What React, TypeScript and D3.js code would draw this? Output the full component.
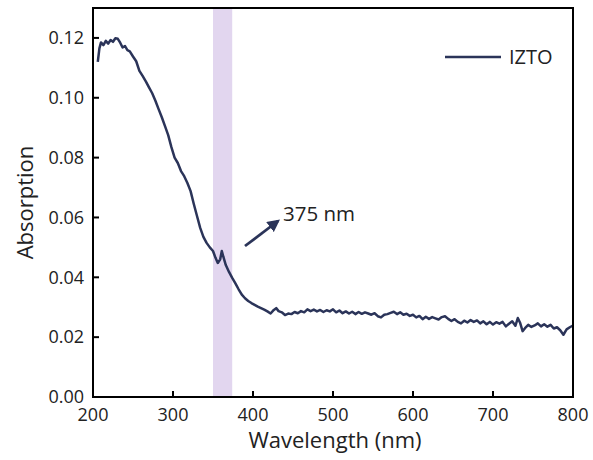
import React from "react";
import * as d3 from "d3";

const wavelengths: number[] = [
  206, 208, 210, 213, 216, 219, 222, 225, 228, 231, 234, 237, 240, 243, 246, 250, 254, 258, 262, 266,
  270, 274, 278, 282, 286, 290, 294, 298, 302, 306, 310, 314, 318, 322, 326, 330, 334, 338, 342, 346,
  350, 353, 356, 359, 361, 363, 366, 370, 374, 378, 382, 386, 390, 394, 398, 402, 406, 410, 414, 418,
  422, 426, 429, 432, 436, 440, 444, 448, 452, 456, 460, 464, 468, 472, 476, 480, 484, 488, 492, 496,
  500, 504, 508, 512, 516, 520, 524, 528, 532, 536, 540, 544, 548, 552, 556, 560, 564, 568, 572, 576,
  580, 584, 588, 592, 596, 600, 604, 608, 612, 616, 620, 624, 628, 632, 636, 640, 644, 648, 652, 656,
  660, 664, 668, 672, 676, 680, 684, 688, 692, 696, 700, 704, 708, 712, 716, 720, 724, 728, 731, 734,
  737, 740, 744, 748, 752, 756, 760, 764, 768, 772, 776, 780, 784, 788, 792, 796, 800,
];

const absorption: number[] = [
  0.112, 0.1165, 0.1185, 0.1176, 0.119, 0.1181, 0.1193, 0.1187, 0.1199, 0.1197, 0.1184, 0.1168, 0.1173, 0.1159, 0.1155, 0.1138, 0.1122, 0.109, 0.1073, 0.1055,
  0.1035, 0.1015, 0.099, 0.0962, 0.0935, 0.0905, 0.0875, 0.0835, 0.08, 0.0782, 0.0755, 0.0738, 0.0715, 0.0688, 0.0645, 0.0605, 0.0565, 0.0535, 0.0515, 0.05,
  0.0488, 0.0466, 0.0448, 0.046, 0.0488, 0.0468, 0.0441, 0.0418, 0.0398, 0.038, 0.036, 0.0342, 0.033, 0.0321, 0.0314, 0.0308, 0.0302, 0.0297, 0.0292, 0.0286,
  0.0279, 0.0291, 0.0297, 0.0287, 0.0283, 0.0274, 0.0279, 0.0277, 0.0284, 0.028, 0.0287, 0.0283, 0.0293, 0.0287, 0.0292, 0.0286, 0.0291, 0.0284, 0.029, 0.0286,
  0.0293, 0.0283, 0.0289, 0.028, 0.0286, 0.0279, 0.0285, 0.0277, 0.0284, 0.0278, 0.0283, 0.0279, 0.0275, 0.028, 0.027, 0.0266, 0.0275, 0.0277, 0.0281, 0.0285,
  0.0277, 0.0283, 0.0275, 0.0278, 0.0271, 0.0275, 0.0266, 0.0271, 0.026, 0.0268, 0.0261, 0.0267, 0.0263, 0.0259, 0.0267, 0.027, 0.0261, 0.0254, 0.026, 0.0251,
  0.0246, 0.0255, 0.0249, 0.0257, 0.0251, 0.0256, 0.0246, 0.0253, 0.0243, 0.0251, 0.0242, 0.025, 0.0245, 0.0251, 0.0236, 0.0245, 0.0253, 0.0238, 0.0264, 0.0247,
  0.022, 0.023, 0.0241, 0.0234, 0.0239, 0.0246, 0.0236, 0.0243, 0.0235, 0.0241, 0.0229, 0.0233, 0.0223, 0.0208, 0.0226, 0.0233, 0.0239,
];

const xTicks: number[] = [200, 300, 400, 500, 600, 700, 800];
const yTicks: number[] = [0, 0.02, 0.04, 0.06, 0.08, 0.1, 0.12];
const bandRange: number[] = [350, 374];
const seriesName = "IZTO";
const annotationText = "375 nm";

const W = 593;
const H = 460;
const M = { left: 93, right: 20, top: 8, bottom: 63 };
const FONT = "'Open Sans', 'Noto Sans', sans-serif";
const LINE_COLOR = "#2b3459";

export default function App() {
  const x = d3.scaleLinear().domain([200, 800]).range([M.left, W - M.right]);
  const y = d3.scaleLinear().domain([0, 0.13]).range([H - M.bottom, M.top]);
  const pts: [number, number][] = wavelengths.map((w, i) => [w, absorption[i]]);
  const line = d3
    .line<[number, number]>()
    .x((d) => x(d[0]))
    .y((d) => y(d[1]))
    .curve(d3.curveLinear);
  const x0 = M.left;
  const x1 = W - M.right;
  const y0 = H - M.bottom;
  const y1 = M.top;
  const tick = 6;

  return (
    <svg width={W} height={H} style={{ position: "absolute", left: 0, top: 0, background: "#fff" }}>
      <rect
        x={x(bandRange[0])}
        y={y1}
        width={x(bandRange[1]) - x(bandRange[0])}
        height={y0 - y1}
        fill="#e2d6ef"
      />
      <path d={line(pts) || ""} fill="none" stroke={LINE_COLOR} strokeWidth={2.5} strokeLinejoin="round" />
      <rect x={x0} y={y1} width={x1 - x0} height={y0 - y1} fill="none" stroke="#000" strokeWidth={2} />
      {xTicks.map((t) => (
        <g key={"x" + t}>
          <line x1={x(t)} x2={x(t)} y1={y0} y2={y0 - tick} stroke="#000" strokeWidth={2} />
          <text x={x(t)} y={y0 + 24} textAnchor="middle" fontFamily={FONT} fontSize={18} fill="#222">
            {t}
          </text>
        </g>
      ))}
      {yTicks.map((t) => (
        <g key={"y" + t}>
          <line x1={x0} x2={x0 + tick} y1={y(t)} y2={y(t)} stroke="#000" strokeWidth={2} />
          <text
            x={x0 - 9}
            y={y(t)}
            dy="0.35em"
            textAnchor="end"
            fontFamily={FONT}
            fontSize={18}
            fill="#222"
          >
            {t.toFixed(2)}
          </text>
        </g>
      ))}
      <text x={(x0 + x1) / 2 + 2} y={448} textAnchor="middle" fontFamily={FONT} fontSize={22} fill="#222">
        Wavelength (nm)
      </text>
      <text
        transform={`translate(33, ${(y0 + y1) / 2}) rotate(-90)`}
        textAnchor="middle"
        fontFamily={FONT}
        fontSize={22}
        fill="#222"
      >
        Absorption
      </text>
      <line x1={445} x2={501} y1={57} y2={57} stroke={LINE_COLOR} strokeWidth={2.5} />
      <text x={509} y={64} fontFamily={FONT} fontSize={20} fill="#222">
        {seriesName}
      </text>
      <defs>
        <marker id="ah" viewBox="0 0 10 10" refX="8" refY="5" markerWidth="4.5" markerHeight="4.5" orient="auto">
          <path d="M0,0 L10,5 L0,10 Z" fill={LINE_COLOR} />
        </marker>
      </defs>
      <line x1={245} y1={246} x2={278} y2={221} stroke={LINE_COLOR} strokeWidth={2.8} markerEnd="url(#ah)" />
      <text x={283} y={221} fontFamily={FONT} fontSize={20.5} fill="#222">
        {annotationText}
      </text>
    </svg>
  );
}
